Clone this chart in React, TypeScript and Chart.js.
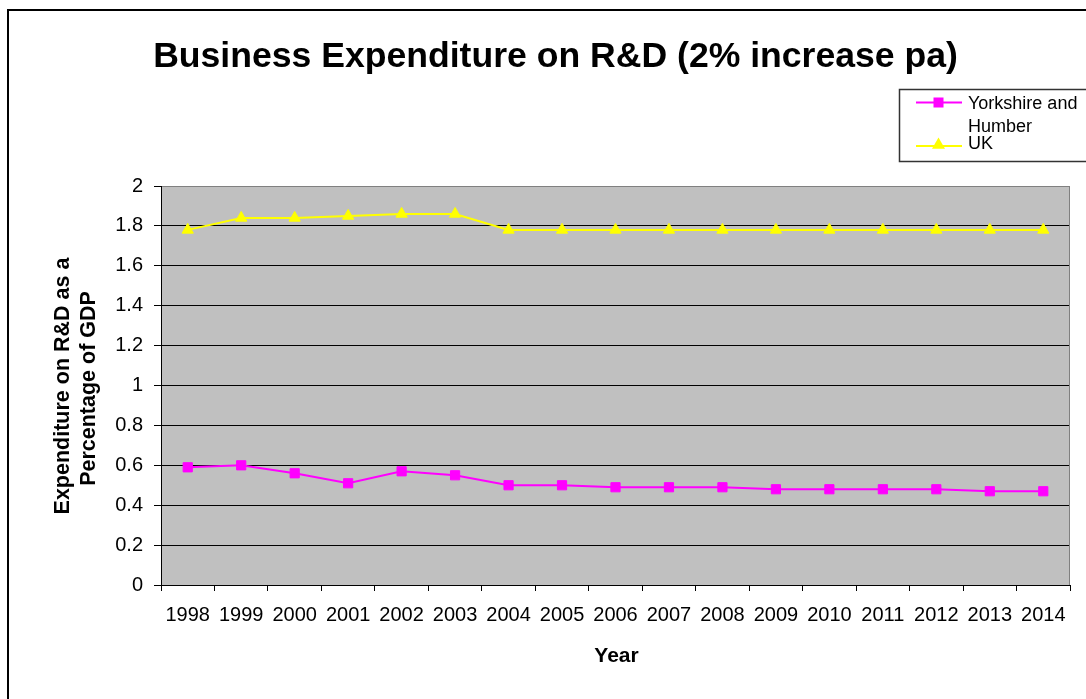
import React, { useEffect, useRef } from 'react';
import { Chart, registerables } from 'chart.js';

Chart.register(...registerables);

const years = ['1998', '1999', '2000', '2001', '2002', '2003', '2004', '2005', '2006', '2007', '2008', '2009', '2010', '2011', '2012', '2013', '2014'];
const yorkshire = [0.59, 0.60, 0.56, 0.51, 0.57, 0.55, 0.50, 0.50, 0.49, 0.49, 0.49, 0.48, 0.48, 0.48, 0.48, 0.47, 0.47];
const uk = [1.78, 1.84, 1.84, 1.85, 1.86, 1.86, 1.78, 1.78, 1.78, 1.78, 1.78, 1.78, 1.78, 1.78, 1.78, 1.78, 1.78];
const yTickLabels = ['0', '0.2', '0.4', '0.6', '0.8', '1', '1.2', '1.4', '1.6', '1.8', '2'];
const titleText = 'Business Expenditure on R&D (2% increase pa)';
const yTitleLines = ['Expenditure on R&D as a', 'Percentage of GDP'];
const xTitleText = 'Year';
const seriesNames = ['Yorkshire and\nHumber', 'UK'];
const seriesColors = ['#FF00FF', '#FFFF00'];

const FONT = '"Liberation Sans", Arial, Helvetica, sans-serif';

const decorPlugin = {
  id: 'decor',
  beforeDraw(chart: any) {
    const { ctx, chartArea } = chart;
    ctx.save();
    ctx.fillStyle = '#FFFFFF';
    ctx.fillRect(0, 0, chart.width, chart.height);
    ctx.fillStyle = '#C0C0C0';
    ctx.fillRect(chartArea.left, chartArea.top, chartArea.right - chartArea.left, chartArea.bottom - chartArea.top);
    ctx.restore();
  },
  afterDraw(chart: any) {
    const { ctx, chartArea } = chart;
    ctx.save();
    // right border of plot area
    ctx.strokeStyle = '#808080';
    ctx.lineWidth = 1;
    ctx.beginPath();
    ctx.moveTo(Math.round(chartArea.right) - 0.5, chartArea.top);
    ctx.lineTo(Math.round(chartArea.right) - 0.5, chartArea.bottom);
    ctx.stroke();

    // title
    ctx.fillStyle = '#000000';
    ctx.font = `bold 35.6px ${FONT}`;
    ctx.textAlign = 'center';
    ctx.textBaseline = 'alphabetic';
    ctx.fillText(titleText, 555.5, 67);

    // x title
    ctx.font = `bold 21px ${FONT}`;
    ctx.fillText(xTitleText, (chartArea.left + chartArea.right) / 2 + 1, 662);

    // y title
    ctx.font = `bold 21.5px ${FONT}`;
    const centers = [386, 388.5];
    const baseXs = [68.8, 95.2];
    yTitleLines.forEach((line, i) => {
      ctx.save();
      ctx.translate(baseXs[i], centers[i]);
      ctx.rotate(-Math.PI / 2);
      ctx.fillText(line, 0, 0);
      ctx.restore();
    });

    // legend
    ctx.strokeStyle = '#333333';
    ctx.lineWidth = 1.5;
    ctx.strokeRect(899.5, 89.5, 300, 72);

    // Yorkshire entry
    ctx.strokeStyle = seriesColors[0];
    ctx.lineWidth = 2;
    ctx.beginPath();
    ctx.moveTo(916, 102.5);
    ctx.lineTo(962, 102.5);
    ctx.stroke();
    ctx.fillStyle = seriesColors[0];
    ctx.fillRect(933.5, 97.5, 10, 10);

    // UK entry
    ctx.strokeStyle = seriesColors[1];
    ctx.beginPath();
    ctx.moveTo(916, 146);
    ctx.lineTo(962, 146);
    ctx.stroke();
    const tx = 938.5, ty = 145, r = 7.5;
    ctx.fillStyle = seriesColors[1];
    ctx.beginPath();
    ctx.moveTo(tx, ty - r);
    ctx.lineTo(tx + 0.866 * r, ty + 0.5 * r);
    ctx.lineTo(tx - 0.866 * r, ty + 0.5 * r);
    ctx.closePath();
    ctx.fill();

    ctx.fillStyle = '#000000';
    ctx.font = `18px ${FONT}`;
    ctx.textAlign = 'left';
    const yLines = seriesNames[0].split('\n');
    ctx.fillText(yLines[0], 968, 109);
    ctx.fillText(yLines[1], 968, 131.5);
    ctx.fillText(seriesNames[1], 968, 149);

    // outer border
    ctx.strokeStyle = '#000000';
    ctx.lineWidth = 2;
    ctx.beginPath();
    ctx.moveTo(8, chart.height + 2);
    ctx.lineTo(8, 10);
    ctx.lineTo(chart.width + 2, 10);
    ctx.stroke();
    ctx.restore();
  },
};

export default function App() {
  const ref = useRef<HTMLCanvasElement>(null);

  useEffect(() => {
    if (!ref.current) return;
    const chart = new Chart(ref.current, {
      type: 'line',
      data: {
        labels: years,
        datasets: [
          {
            label: seriesNames[0],
            data: yorkshire,
            borderColor: seriesColors[0],
            backgroundColor: seriesColors[0],
            borderWidth: 2,
            pointStyle: 'rect',
            pointRadius: 6.5,
            pointHoverRadius: 6.5,
            pointBorderWidth: 1,
            pointBackgroundColor: seriesColors[0],
            pointBorderColor: seriesColors[0],
            tension: 0,
          },
          {
            label: seriesNames[1],
            data: uk,
            borderColor: seriesColors[1],
            backgroundColor: seriesColors[1],
            borderWidth: 2,
            pointStyle: 'triangle',
            pointRadius: 6.5,
            pointHoverRadius: 6.5,
            pointBorderWidth: 1,
            pointBackgroundColor: seriesColors[1],
            pointBorderColor: seriesColors[1],
            tension: 0,
          },
        ],
      },
      options: {
        responsive: false,
        animation: false,
        devicePixelRatio: 1,
        events: [],
        layout: { padding: { top: 186, right: 16, left: 0, bottom: 0 } },
        plugins: {
          legend: { display: false },
          title: { display: false },
          tooltip: { enabled: false },
        },
        scales: {
          x: {
            type: 'category',
            offset: true,
            grid: {
              offset: true,
              drawOnChartArea: false,
              drawTicks: true,
              tickLength: 6,
              color: '#000000',
              lineWidth: 1,
            },
            border: { display: true, color: '#000000', width: 1 },
            ticks: {
              color: '#000000',
              font: { family: FONT, size: 20 },
              padding: 12,
              maxRotation: 0,
              minRotation: 0,
              autoSkip: false,
            },
            afterFit: (s: any) => {
              s.height = 114;
            },
          },
          y: {
            type: 'linear',
            min: 0,
            max: 2,
            ticks: {
              stepSize: 0.2,
              color: '#000000',
              font: { family: FONT, size: 20 },
              padding: 11,
              callback: (_v: any, i: number) => yTickLabels[i],
            },
            grid: {
              color: (c: any) => (c.tick && Math.abs(c.tick.value - 2) < 1e-6 ? '#808080' : '#000000'),
              tickColor: '#000000',
              tickLength: 7,
              lineWidth: 1,
            },
            border: { display: true, color: '#000000', width: 1 },
            afterFit: (s: any) => {
              s.width = 161;
            },
          },
        },
      },
      plugins: [decorPlugin],
    } as any);
    return () => chart.destroy();
  }, []);

  return (
    <div style={{ position: 'absolute', left: 0, top: 0, width: 1086, height: 699 }}>
      <canvas ref={ref} width={1086} height={699} style={{ display: 'block', width: 1086, height: 699 }} />
    </div>
  );
}
